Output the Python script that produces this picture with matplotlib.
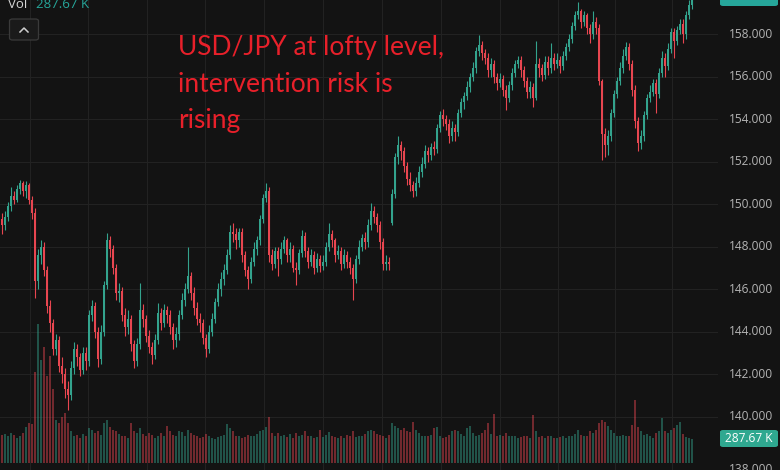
import numpy as np
import matplotlib.pyplot as plt
from matplotlib.patches import FancyBboxPatch
from matplotlib.lines import Line2D
from matplotlib.transforms import blended_transform_factory

# daily USD/JPY candles (oldest first)
opens = [
    149.3, 149.0, 149.4, 149.9, 150.4, 150.2, 150.7, 151.0, 150.6, 150.9, 150.2,
    149.6, 146.4, 147.6, 148.0, 146.9, 145.2, 144.4, 143.2, 143.6, 142.4, 142.0, 141.3,
    141.0, 142.3, 143.2, 142.8, 142.2, 143.0, 142.6, 144.8, 145.2, 144.0, 142.7, 144.0, 146.2,
    148.3, 147.9, 147.0, 145.8, 145.9, 144.8, 144.2, 144.6, 143.4, 142.6, 143.4, 145.0,
    144.6, 143.8, 143.3, 142.9, 143.6, 144.9, 144.4, 145.0, 144.8, 144.2, 143.6,
    143.9, 144.8, 145.5, 146.0, 146.6, 145.8, 145.1, 144.6, 144.4, 143.7, 143.2,
    144.0, 144.6, 145.4, 146.0, 146.5, 146.9, 147.6, 148.7, 148.6, 148.3, 148.7,
    147.6, 146.9, 146.5, 147.3, 147.9, 148.3, 149.3, 150.3, 150.6, 147.6,
    147.2, 147.8, 147.4, 147.9, 148.3, 147.6, 147.9, 147.0, 146.9, 147.7, 148.5,
    147.8, 147.3, 147.6, 147.0, 147.4, 147.1, 147.3, 148.0, 148.6, 148.3, 147.6,
    147.8, 147.2, 147.6, 147.3, 147.0, 146.5, 147.4, 148.0, 148.4, 148.2, 149.0,
    149.7, 149.4, 149.0, 148.2, 147.2, 147.3,
    149.1, 150.5, 152.2, 152.8, 152.5, 151.8, 151.2, 150.9, 150.6, 151.0, 151.5,
    151.9, 152.5, 152.3, 152.7, 152.6, 153.6, 154.2, 154.0, 153.8, 153.2, 153.6,
    153.4, 154.3, 154.8, 155.1, 155.5, 156.0, 156.4, 157.2, 157.5, 157.1, 156.9,
    156.3, 156.6, 156.0, 155.7, 155.9, 155.4, 155.0, 155.6, 156.2, 156.6, 156.8,
    156.3, 155.8, 155.3, 155.5, 155.0, 156.6, 156.4, 156.1, 156.7, 156.4, 156.9,
    156.6, 156.8, 156.5, 157.0, 157.4, 157.8, 158.4, 158.9, 159.1, 158.6, 158.9,
    158.3, 158.0, 158.6, 158.3, 155.8, 153.3, 152.8, 153.2, 154.3, 155.2, 155.8,
    156.4, 157.0, 157.4, 156.6, 155.4, 153.9, 152.9, 153.2, 154.2, 155.0, 155.3,
    155.7, 155.2, 156.2, 156.9, 156.5, 157.3, 158.1, 157.7, 158.2, 158.5, 158.0, 158.9, 159.4,
]
highs = [
    149.6, 149.7, 150.1, 150.8, 150.6, 150.9, 151.15, 151.1, 151.1, 151.0, 150.4,
    149.8, 147.9, 148.3, 148.2, 147.1, 145.5, 144.6, 143.9, 143.8, 142.8, 142.3, 141.7,
    142.6, 143.5, 143.4, 143.0, 143.3, 143.3, 145.0, 145.5, 145.4, 144.2, 144.3, 146.4, 148.65,
    148.5, 148.1, 147.2, 146.3, 146.1, 145.1, 145.0, 144.8, 143.6, 143.7, 146.3, 145.3,
    144.8, 144.1, 143.5, 143.9, 145.35, 145.1, 145.3, 145.2, 145.0, 144.4, 144.2,
    145.0, 145.8, 146.3, 148.0, 146.8, 146.1, 145.4, 144.9, 144.6, 143.9, 144.3,
    144.9, 145.6, 146.3, 146.8, 147.2, 147.9, 149.0, 149.1, 148.9, 148.9, 148.9,
    147.8, 147.1, 147.5, 148.2, 148.5, 149.5, 150.5, 151.0, 150.8, 147.9,
    148.0, 148.0, 148.2, 148.5, 148.4, 148.2, 148.1, 147.3, 147.9, 148.8, 148.7,
    148.0, 147.9, 147.8, 147.7, 147.6, 147.6, 148.2, 149.1, 148.8, 148.4, 148.1,
    148.0, 147.9, 147.8, 147.5, 147.2, 147.6, 148.3, 148.6, 148.7, 149.3, 150.05,
    149.9, 149.6, 149.2, 148.4, 147.6, 147.5,
    150.7, 152.4, 153.2, 153.0, 152.7, 152.0, 151.5, 151.1, 151.3, 151.8, 152.2,
    152.8, 152.7, 152.9, 153.0, 153.8, 154.4, 154.5, 154.2, 154.0, 153.9, 153.8,
    154.5, 155.0, 155.3, 155.8, 156.2, 156.7, 157.4, 157.95, 157.7, 157.3, 157.1,
    156.9, 156.8, 156.2, 156.2, 156.1, 155.6, 155.8, 156.4, 156.8, 157.0, 157.0,
    156.5, 156.0, 155.8, 155.7, 157.7, 156.9, 156.6, 157.0, 157.0, 157.6, 157.1,
    157.1, 157.0, 157.2, 157.6, 158.0, 158.6, 159.1, 159.5, 159.2, 159.1, 159.0,
    158.5, 159.1, 158.8, 158.5, 155.9, 153.6, 153.5, 154.5, 155.4, 156.0, 156.7,
    157.3, 157.65, 157.6, 156.8, 155.6, 154.1, 153.5, 154.4, 155.2, 155.6, 155.9,
    155.9, 156.4, 157.2, 157.1, 157.6, 158.3, 158.3, 158.4, 158.7, 158.7, 159.1, 159.6, 159.9,
]
lows = [
    148.6, 148.8, 149.2, 149.7, 150.0, 150.1, 150.5, 150.4, 150.3, 150.0, 149.3,
    145.6, 146.0, 147.2, 146.6, 144.9, 144.0, 142.9, 142.9, 142.1, 141.6, 140.9, 140.3,
    140.8, 142.0, 142.4, 141.9, 142.0, 142.2, 142.4, 144.5, 143.7, 142.35, 142.5, 143.8, 146.0,
    147.5, 146.7, 145.5, 145.4, 144.5, 143.8, 143.9, 143.1, 142.3, 142.4, 143.2, 144.2,
    143.5, 143.0, 142.5, 142.7, 143.4, 144.1, 144.2, 144.4, 143.9, 143.2, 143.3,
    143.6, 144.6, 145.2, 145.8, 145.5, 144.8, 144.3, 144.0, 143.4, 142.8, 143.0,
    143.8, 144.4, 145.2, 145.7, 146.2, 146.7, 147.4, 148.2, 147.9, 148.0, 147.3,
    146.6, 146.0, 146.3, 147.1, 147.6, 148.1, 149.1, 150.1, 147.3, 146.9,
    147.0, 146.6, 147.2, 147.7, 147.3, 147.3, 146.8, 146.2, 146.7, 147.5, 147.5,
    147.0, 147.1, 146.7, 146.8, 146.8, 146.9, 147.1, 147.8, 148.0, 147.3, 147.4,
    146.9, 147.0, 147.0, 146.7, 145.5, 146.3, 147.2, 147.8, 147.9, 148.0, 148.8,
    149.1, 148.7, 147.9, 146.9, 146.9, 146.9,
    149.0, 150.3, 151.9, 152.1, 151.5, 150.9, 150.6, 150.35, 150.4, 150.8, 151.3,
    151.7, 152.0, 152.1, 152.3, 152.4, 153.4, 153.7, 153.5, 152.9, 153.0, 153.0,
    153.2, 154.1, 154.5, 154.9, 155.3, 155.8, 156.2, 157.0, 156.8, 156.6, 156.0,
    156.0, 155.7, 155.4, 155.5, 155.1, 154.45, 154.8, 155.4, 156.0, 156.4, 156.0,
    155.5, 155.0, 155.0, 154.6, 154.9, 156.0, 155.8, 155.9, 156.1, 156.2, 156.3,
    156.4, 156.2, 156.3, 156.8, 157.2, 157.6, 158.2, 158.7, 158.3, 158.4, 158.0,
    157.6, 157.8, 158.0, 155.6, 152.1, 152.2, 152.3, 153.0, 154.1, 155.0, 155.6,
    156.2, 156.8, 156.3, 155.1, 153.6, 152.5, 152.6, 153.0, 154.0, 154.8, 155.1,
    154.3, 155.0, 156.0, 156.0, 156.3, 157.1, 156.9, 157.5, 158.0, 157.6, 157.8, 158.7, 159.2,
]
closes = [
    149.0, 149.4, 149.9, 150.4, 150.2, 150.7, 151.0, 150.6, 150.9, 150.2, 149.6,
    146.4, 147.6, 148.0, 146.9, 145.2, 144.4, 143.2, 143.6, 142.4, 142.0, 141.3, 141.0,
    142.3, 143.2, 142.8, 142.2, 143.0, 142.6, 144.8, 145.2, 144.0, 142.7, 144.0, 146.2, 148.3,
    147.9, 147.0, 145.8, 145.9, 144.8, 144.2, 144.6, 143.4, 142.6, 143.4, 145.0, 144.6,
    143.8, 143.3, 142.9, 143.6, 144.9, 144.4, 145.0, 144.8, 144.2, 143.6, 143.9,
    144.8, 145.5, 146.0, 146.6, 145.8, 145.1, 144.6, 144.4, 143.7, 143.2, 144.0,
    144.6, 145.4, 146.0, 146.5, 146.9, 147.6, 148.7, 148.6, 148.3, 148.7, 147.6,
    146.9, 146.5, 147.3, 147.9, 148.3, 149.3, 150.3, 150.6, 147.6, 147.2,
    147.8, 147.4, 147.9, 148.3, 147.6, 147.9, 147.0, 146.9, 147.7, 148.5, 147.8,
    147.3, 147.6, 147.0, 147.4, 147.1, 147.3, 148.0, 148.6, 148.3, 147.6, 147.8,
    147.2, 147.6, 147.3, 147.0, 146.5, 147.4, 148.0, 148.4, 148.2, 149.0, 149.7,
    149.4, 149.0, 148.2, 147.2, 147.3, 147.2,
    150.5, 152.2, 152.8, 152.5, 151.8, 151.2, 150.9, 150.6, 151.0, 151.5, 151.9,
    152.5, 152.3, 152.7, 152.6, 153.6, 154.2, 154.0, 153.8, 153.2, 153.6, 153.4,
    154.3, 154.8, 155.1, 155.5, 156.0, 156.4, 157.2, 157.5, 157.1, 156.9, 156.3,
    156.6, 156.0, 155.7, 155.9, 155.4, 155.0, 155.6, 156.2, 156.6, 156.8, 156.3,
    155.8, 155.3, 155.5, 155.0, 156.6, 156.4, 156.1, 156.7, 156.4, 156.9, 156.6,
    156.8, 156.5, 157.0, 157.4, 157.8, 158.4, 158.9, 159.1, 158.6, 158.9, 158.3,
    158.0, 158.6, 158.3, 155.8, 153.3, 152.8, 153.2, 154.3, 155.2, 155.8, 156.4,
    157.0, 157.4, 156.6, 155.4, 153.9, 152.9, 153.2, 154.2, 155.0, 155.3, 155.7,
    155.2, 156.2, 156.9, 156.5, 157.3, 158.1, 157.7, 158.2, 158.5, 158.0, 158.9, 159.4, 159.78,
]
# volume in thousands
volumes = [
    340, 350, 330, 360, 340, 300, 330, 360, 430, 480, 470,
    1100, 1680, 1250, 1400, 1050, 1300, 900, 520, 480, 560, 600, 480,
    380, 330, 340, 300, 350, 330, 420, 400, 360, 380, 340, 480, 520,
    430, 400, 380, 350, 330, 320, 300, 480, 380, 360, 420, 350,
    330, 360, 340, 300, 320, 360, 330, 450, 380, 340, 320,
    380, 370, 330, 400, 360, 340, 330, 300, 310, 350, 320,
    300, 290, 310, 330, 340, 470, 420, 380, 320, 330, 300,
    310, 340, 330, 320, 350, 380, 400, 430, 560, 360,
    320, 360, 330, 340, 310, 350, 300, 360, 330, 340, 380,
    330, 320, 300, 310, 400, 310, 340, 370, 330, 310, 300,
    320, 300, 340, 330, 380, 310, 320, 330, 350, 390, 400,
    380, 350, 340, 330, 300, 340,
    480, 450, 420, 400, 420, 380, 370, 500, 400, 360, 330,
    330, 320, 340, 420, 430, 330, 300, 310, 340, 380, 400,
    380, 350, 330, 420, 440, 360, 330, 340, 360, 400, 480,
    350, 590, 330, 340, 320, 360, 330, 320, 330, 300, 310,
    330, 320, 300, 580, 380, 310, 320, 300, 330, 320, 300,
    300, 310, 320, 300, 330, 320, 350, 400, 340, 330, 320,
    380, 360, 400, 480, 520, 500, 440, 400, 360, 330, 320,
    340, 330, 320, 460, 760, 430, 380, 340, 350, 320, 300,
    360, 380, 540, 380, 360, 400, 420, 460, 490, 350, 310, 300, 287.67,
]
price_ticks = [140, 142, 144, 146, 148, 150, 152, 154, 156, 158]
month_lines = [9.3, 28.7, 48.3, 67.7, 87.3, 107.0, 126.7, 146.3, 166.0, 185.3, 204.3, 223.3]
last_price = "159.780"
last_volume = "287.67 K"
headline = ["USD/JPY at lofty level,", "intervention risk is", "rising"]

BG = "#131313"
GRID = "#222222"
UP = "#33a38d"
DOWN = "#e84650"
W, H = 780, 470
PLOT_W = 718

o = np.array(opens)
c = np.array(closes)
hi = np.array(highs)
lo = np.array(lows)
vol = np.array(volumes)
x = np.arange(len(c))
up = c >= o
cols = np.where(up, UP, DOWN)

fig = plt.figure(figsize=(W / 100, H / 100), dpi=100, facecolor=BG)
ax_vol = fig.add_axes([0, 0, PLOT_W / W, 1])
ax = ax_vol.twinx()
ax_vol.set_facecolor(BG)

for a in (ax_vol, ax):
    a.set_xlim(-2 / 3, (PLOT_W - 2) / 3)
    for s in a.spines.values():
        s.set_visible(False)
    a.set_xticks([])
    a.set_yticks([])

ax.set_ylim(137.487, 159.615)
ax_vol.set_ylim(-88.6, 5617)

# grid (drawn on the lower axes so it sits behind everything)
for m in month_lines:
    ax_vol.axvline(m, color=GRID, lw=0.8, zorder=0)
for p in price_ticks:
    ax_vol.plot([0, 1], [p, p], color=GRID, lw=0.8, zorder=0,
                transform=ax.get_yaxis_transform())

# volume
ax_vol.bar(x, vol, width=0.55, color=cols, alpha=0.45, linewidth=0, zorder=1)

# candles
ax.vlines(x, lo, hi, colors=cols, linewidth=0.8)
body = np.abs(c - o)
body = np.maximum(body, 0.06)
ax.bar(x, body, bottom=np.minimum(o, c), width=0.78, color=cols, linewidth=0)

# right price scale
tr = blended_transform_factory(fig.transFigure, ax.transData)
for p in price_ticks:
    fig.text(751 / W, p, f"{p:.3f}", transform=tr, ha="center", va="center",
             color="#b4b4b4", fontsize=8.6, family="Open Sans")
fig.text(751 / W, 1 - 463 / H, "138.000", ha="center", va="top",
         color="#b4b4b4", fontsize=8.6, family="Open Sans")


def px_box(x0, y0, x1, y1, **kw):
    fig.patches.append(FancyBboxPatch((x0 / W, 1 - y1 / H), (x1 - x0) / W, (y1 - y0) / H,
                                      boxstyle="round,pad=0,rounding_size=0.004",
                                      transform=fig.transFigure, **kw))


# last price badge (cut off at the top, as in the screenshot)
px_box(720, -14, 778, 6, facecolor="#26a69a", edgecolor="none")
fig.text(749 / W, 1 + 3.5 / H, last_price, ha="center", va="center",
         color="white", fontsize=8.6, family="Open Sans")

# last volume badge
px_box(720, 430, 778, 447, facecolor="#2fa890", edgecolor="none")
fig.text(749 / W, 1 - 438.5 / H, last_volume, ha="center", va="center",
         color="white", fontsize=8.6, family="Open Sans")

# top-left legend
fig.text(8 / W, 1 - 8.5 / H, "Vol", ha="left", va="baseline",
         color="#d6d6d6", fontsize=9.5, family="Open Sans")
fig.text(36 / W, 1 - 8.5 / H, last_volume, ha="left", va="baseline",
         color="#26a69a", fontsize=9.5, family="Open Sans")

# collapse button
px_box(9.5, 19, 38.5, 40, facecolor="#1a1a1a", edgecolor="#3a3a3a", linewidth=0.9)
fig.lines.append(Line2D([20 / W, 24 / W, 28 / W], [1 - 32 / H, 1 - 28 / H, 1 - 32 / H],
                        transform=fig.transFigure, color="#cfcfcf", lw=1.1))

# headline annotation
for i, line in enumerate(headline):
    fig.text(178 / W, 1 - (55 + 36.5 * i) / H, line, ha="left", va="baseline",
             color="#e8202a", fontsize=19, family="Lato")

fig.savefig("out.png", dpi=100, facecolor=BG)
